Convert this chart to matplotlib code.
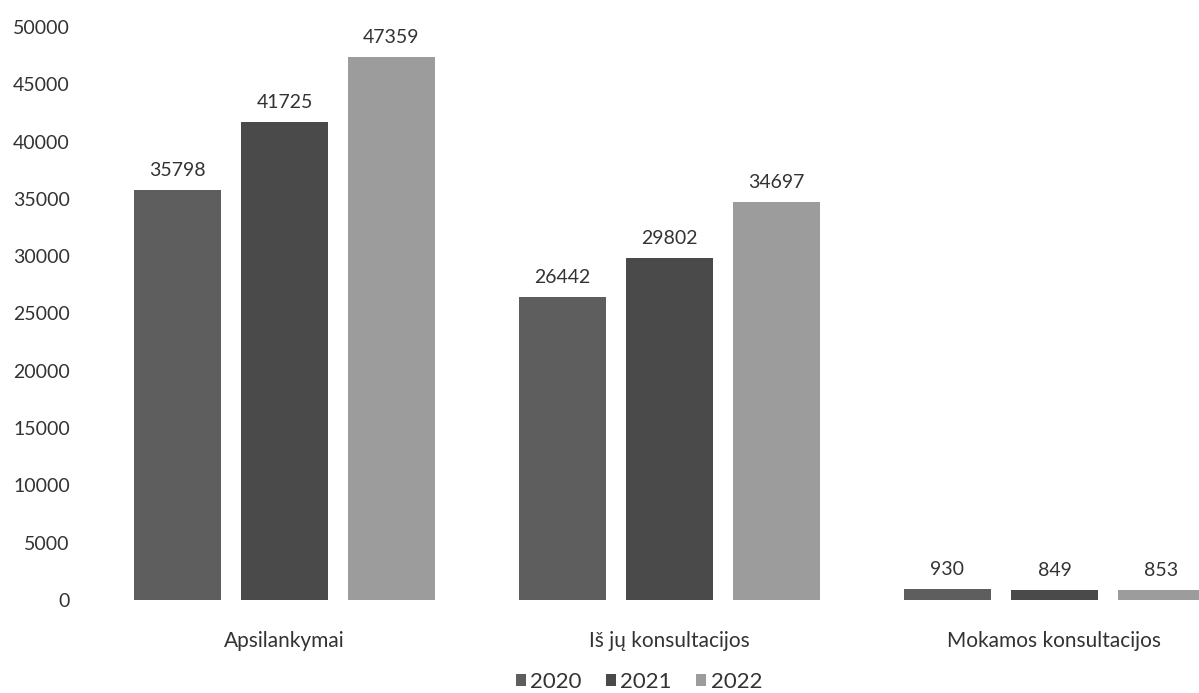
import matplotlib
matplotlib.use("Agg")
import matplotlib.pyplot as plt
import numpy as np

categories = ["Apsilankymai", "Iš jų konsultacijos", "Mokamos konsultacijos"]
years = ["2020", "2021", "2022"]
v2020 = [35798, 26442, 930]
v2021 = [41725, 29802, 849]
v2022 = [47359, 34697, 853]
series = [v2020, v2021, v2022]
colors = ["#5e5e5e", "#4a4a4a", "#9c9c9c"]

plt.rcParams['font.family'] = ['Lato', 'DejaVu Sans']

fig = plt.figure(figsize=(11.99, 6.93), dpi=100)
W, H = 1199, 693
ax = fig.add_axes([92 / W, (H - 600) / H, 1155 / W, 573 / H])

x = np.arange(len(categories))
bw = 0.226
step = 0.278
for i, (vals, c, yr) in enumerate(zip(series, colors, years)):
    pos = x + (i - 1) * step
    bars = ax.bar(pos, vals, width=bw, color=c, label=yr, edgecolor="none")
    for b, v in zip(bars, vals):
        ax.annotate(str(v), (b.get_x() + b.get_width() / 2, v),
                    xytext=(0, 8), textcoords="offset points",
                    ha="center", va="bottom", fontsize=14, color="#333333",
                    annotation_clip=False)

ax.set_xlim(-0.5, 2.5)
ax.set_ylim(0, 50000)
ax.set_yticks(np.arange(0, 50001, 5000))
ax.set_yticklabels([str(t) for t in range(0, 50001, 5000)])
ax.set_xticks(x)
ax.set_xticklabels(categories)
ax.tick_params(axis="both", length=0, labelsize=14, labelcolor="#333333")
ax.tick_params(axis="x", labelsize=15)
ax.tick_params(axis="y", pad=16)
ax.tick_params(axis="x", pad=22)
for s in ax.spines.values():
    s.set_visible(False)

fig.legend(loc="center", bbox_to_anchor=(639 / W, 1 - 682 / H), ncol=3,
           frameon=False, fontsize=16, handlelength=0.45, handleheight=0.45,
           handletextpad=0.2, columnspacing=1.1, labelcolor="#333333",
           borderpad=0.1)

fig.savefig("out.png", dpi=100)
